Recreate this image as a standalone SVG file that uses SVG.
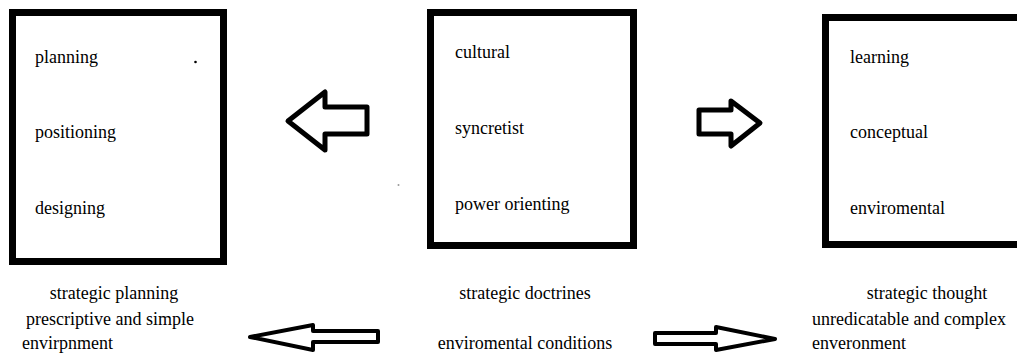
<svg xmlns="http://www.w3.org/2000/svg" width="1017" height="354" viewBox="0 0 1017 354">
<style>
.box{fill:#fff;stroke:#000;stroke-width:7}
.arr{fill:#fff;stroke:#000;stroke-width:5;stroke-linejoin:round}
.arr2{fill:#fff;stroke:#000;stroke-width:4;stroke-linejoin:round}
text{font-family:"Liberation Serif","Times New Roman",serif;font-size:18px;fill:#000}
.c{text-anchor:middle}
</style>
<rect width="1017" height="354" fill="#fff"/>
<g id="node-left">
<rect class="box" x="12.5" y="12.5" width="211" height="249"/>
<text x="35" y="63">planning</text>
<text x="35" y="138">positioning</text>
<text x="35" y="214">designing</text>
<circle cx="195.5" cy="62" r="1.3" fill="#000"/>
</g>
<g id="node-middle">
<rect class="box" x="430.5" y="12.5" width="203" height="233"/>
<text x="455" y="58">cultural</text>
<text x="455" y="134">syncretist</text>
<text x="455" y="210">power orienting</text>
</g>
<g id="node-right">
<rect class="box" x="825.5" y="17.5" width="200" height="227"/>
<text x="850" y="63">learning</text>
<text x="850" y="138">conceptual</text>
<text x="850" y="214">enviromental</text>
</g>
<g id="connectors">
<polygon class="arr" points="288,121 325,92 325,107 367,107 367,134 325,134 325,150"/>
<polygon class="arr" points="699,110 731,110 731,101 760,123 731,146 731,134 699,134"/>
<polygon class="arr2" points="250,337 313,325 313,331 378,331 378,342 313,342 313,350"/>
<polygon class="arr2" points="655,333 716,333 716,327 775,339 716,350 716,344 655,344"/>
</g>
<g id="labels">
<text class="c" x="114" y="299">strategic planning</text>
<text class="c" x="110" y="325">prescriptive and simple</text>
<text x="22" y="349">envirpnment</text>
<text class="c" x="525" y="299">strategic doctrines</text>
<text class="c" x="525" y="349">enviromental conditions</text>
<text class="c" x="927" y="299">strategic thought</text>
<text x="812" y="325">unredicatable and complex</text>
<text x="812" y="349">enveronment</text>
<circle cx="398.5" cy="185" r="1" fill="#999"/>
</g>
</svg>
